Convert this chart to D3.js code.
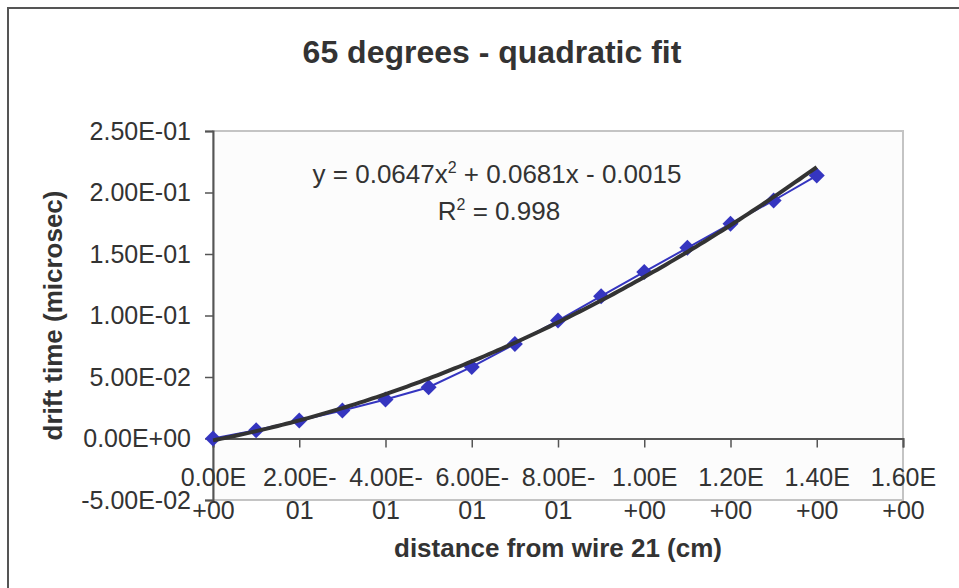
<!DOCTYPE html>
<html>
<head>
<meta charset="utf-8">
<script src="https://cdn.jsdelivr.net/npm/d3@7"></script>
<style>
  body { margin: 0; background: #fff; }
  text { font-family: "Liberation Sans", Arial, sans-serif; fill: #333; }
</style>
</head>
<body>
<div class="chart-container"></div>
<script>
//! DATA
const distances = [0, 0.1, 0.2, 0.3, 0.4, 0.5, 0.6, 0.7, 0.8, 0.9, 1.0, 1.1, 1.2, 1.3, 1.4];
const driftTimes = [0, 0.0067, 0.0146, 0.0228, 0.0317, 0.0417, 0.0582, 0.0769, 0.0959, 0.1157, 0.1354, 0.155, 0.1745, 0.1935, 0.2138];
const trendCoefs = [0.0647, 0.0681, -0.0015]; // from the fit label: a x^2 + b x + c
const yTicks = [-0.05, 0, 0.05, 0.1, 0.15, 0.2, 0.25];
const yTickLabels = ['-5.00E-02', '0.00E+00', '5.00E-02', '1.00E-01', '1.50E-01', '2.00E-01', '2.50E-01'];
const xTicks = [0, 0.2, 0.4, 0.6, 0.8, 1.0, 1.2, 1.4, 1.6];
const xTickLabels = [['0.00E', '+00'], ['2.00E-', '01'], ['4.00E-', '01'], ['6.00E-', '01'], ['8.00E-', '01'],
  ['1.00E', '+00'], ['1.20E', '+00'], ['1.40E', '+00'], ['1.60E', '+00']];

//! CONSTS
const width = 959;
const height = 588;
const plot = { left: 213, right: 903, top: 131, bottom: 500 };

const svg = d3.select('.chart-container')
  .append('svg')
  .attr('width', width)
  .attr('height', height);

// chart frame (runs off the right / bottom edge)
svg.append('rect')
  .attr('x', 8).attr('y', 8)
  .attr('width', 1000).attr('height', 1000)
  .attr('fill', '#fff')
  .attr('stroke', '#555')
  .attr('stroke-width', 2);

//! SCALES
const xScale = d3.scaleLinear().domain([0, 1.6]).range([plot.left, plot.right]);
const yScale = d3.scaleLinear().domain([-0.05, 0.25]).range([plot.bottom, plot.top]);

// plot area
svg.append('rect')
  .attr('x', plot.left).attr('y', plot.top)
  .attr('width', plot.right - plot.left).attr('height', plot.bottom - plot.top)
  .attr('fill', '#fcfcfc')
  .attr('stroke', '#c4c4c4')
  .attr('stroke-width', 2);

//! AXES
const yAxis = d3.axisLeft(yScale)
  .tickValues(yTicks)
  .tickFormat((d, i) => yTickLabels[i])
  .tickSize(8)
  .tickPadding(14);

svg.append('g')
  .attr('transform', `translate(${plot.left},0)`)
  .call(yAxis)
  .call(g => g.select('.domain').attr('stroke', '#555').attr('stroke-width', 2))
  .call(g => g.selectAll('.tick line').attr('stroke', '#555').attr('stroke-width', 1.5))
  .call(g => g.selectAll('.tick text')
    .attr('fill', '#333')
    .style('font-size', '25px')
    .style('font-family', '"Liberation Sans", Arial, sans-serif'));

const xAxis = d3.axisBottom(xScale)
  .tickValues(xTicks)
  .tickFormat('')
  .tickSizeOuter(0)
  .tickSize(9);

const xg = svg.append('g')
  .attr('transform', `translate(0,${yScale(0)})`)
  .call(xAxis)
  .call(g => g.select('.domain').attr('stroke', '#555').attr('stroke-width', 2))
  .call(g => g.selectAll('.tick line').attr('stroke', '#555').attr('stroke-width', 1.5));

xg.selectAll('.tick').each(function (d, i) {
  const t = d3.select(this).append('text')
    .attr('text-anchor', 'middle')
    .attr('fill', '#333')
    .style('font-size', '25px')
    .style('font-family', '"Liberation Sans", Arial, sans-serif');
  t.append('tspan').attr('x', 0).attr('y', 47).text(xTickLabels[i][0]);
  t.append('tspan').attr('x', 0).attr('y', 80).text(xTickLabels[i][1]);
});

//! SERIES
const points = distances.map((d, i) => ({ x: d, y: driftTimes[i] }));

svg.append('path')
  .datum(points)
  .attr('fill', 'none')
  .attr('stroke', '#3535c0')
  .attr('stroke-width', 2)
  .attr('d', d3.line().x(d => xScale(d.x)).y(d => yScale(d.y)));

svg.selectAll('.marker')
  .data(points)
  .enter()
  .append('path')
  .attr('class', 'marker')
  .attr('transform', d => `translate(${xScale(d.x)},${yScale(d.y)})`)
  .attr('d', 'M0,-8L8,0L0,8L-8,0Z')
  .attr('fill', '#3535c0');

// trendline from the fit label's coefficients, over the data's range
const trend = d3.range(0, 141).map(k => {
  const x = k / 100;
  return { x, y: trendCoefs[0] * x * x + trendCoefs[1] * x + trendCoefs[2] };
});

svg.append('path')
  .datum(trend)
  .attr('fill', 'none')
  .attr('stroke', '#333')
  .attr('stroke-width', 4)
  .attr('d', d3.line().x(d => xScale(d.x)).y(d => yScale(d.y)));

//! TEXT
svg.append('text')
  .attr('x', 492).attr('y', 63)
  .attr('text-anchor', 'middle')
  .style('font-size', '32px')
  .style('font-weight', 'bold')
  .text('65 degrees - quadratic fit');

const eq = svg.append('text')
  .attr('x', 497).attr('y', 183)
  .attr('text-anchor', 'middle')
  .style('font-size', '26px');
eq.append('tspan').text('y = 0.0647x');
eq.append('tspan').attr('dy', -10).style('font-size', '16px').text('2');
eq.append('tspan').attr('dy', 10).text(' + 0.0681x - 0.0015');

const r2 = svg.append('text')
  .attr('x', 499).attr('y', 220)
  .attr('text-anchor', 'middle')
  .style('font-size', '26px');
r2.append('tspan').text('R');
r2.append('tspan').attr('dy', -10).style('font-size', '16px').text('2');
r2.append('tspan').attr('dy', 10).text(' = 0.998');

svg.append('text')
  .attr('x', (plot.left + plot.right) / 2).attr('y', 557)
  .attr('text-anchor', 'middle')
  .style('font-size', '26px')
  .style('font-weight', 'bold')
  .text('distance from wire 21 (cm)');

svg.append('text')
  .attr('transform', `translate(62,${(plot.top + plot.bottom) / 2})rotate(-90)`)
  .attr('text-anchor', 'middle')
  .style('font-size', '26px')
  .style('font-weight', 'bold')
  .text('drift time (microsec)');
</script>
</body>
</html>
